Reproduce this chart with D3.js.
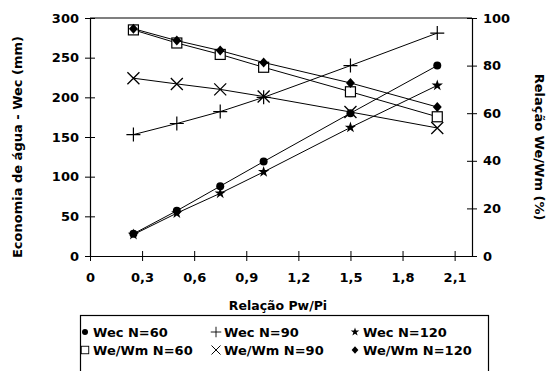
<!DOCTYPE html>
<html>
<head>
<meta charset="utf-8">
<script src="https://cdn.jsdelivr.net/npm/d3@7"></script>
<style>
  body { margin: 0; background: #fff; }
  text { font-family: "DejaVu Sans", "Liberation Sans", Arial, sans-serif; font-weight: bold; fill: #000; }
</style>
</head>
<body>
<svg id="chart" width="556" height="371"></svg>
<script>
// dados
const pwpi = [0.25, 0.5, 0.75, 1.0, 1.5, 2.0];
const wecN60 = [28, 57, 88, 119, 180, 240];
const wecN90 = [153, 167, 182, 200, 240, 281];
const wecN120 = [27, 54, 79, 106, 162, 215];
const weWmN60 = [95, 89.5, 84.7, 79.3, 69, 58.5];
const weWmN90 = [74.7, 72.3, 70, 67, 60.5, 53.8];
const weWmN120 = [95.5, 90.5, 86.3, 81.3, 72.7, 62.6];
const xTicks = [0, 0.3, 0.6, 0.9, 1.2, 1.5, 1.8, 2.1];
const yLeftTicks = [0, 50, 100, 150, 200, 250, 300];
const yRightTicks = [0, 20, 40, 60, 80, 100];

const svg = d3.select("#chart");
const marge = { left: 90, right: 472, top: 18, bottom: 256 };

const x = d3.scaleLinear().domain([0, 2.2]).range([marge.left, marge.right]);
const yL = d3.scaleLinear().domain([0, 300]).range([marge.bottom, marge.top]);
const yR = d3.scaleLinear().domain([0, 100]).range([marge.bottom, marge.top]);

const fmt = d => d === 0 ? "0" : d3.format(".1f")(d).replace(".", ",");

// moldura (topo)
svg.append("line").attr("x1", marge.left).attr("x2", marge.right)
  .attr("y1", marge.top).attr("y2", marge.top).attr("stroke", "#000").attr("stroke-width", 1.2);

// eixo x
const gx = svg.append("g").attr("transform", `translate(0,${marge.bottom})`)
  .call(d3.axisBottom(x).tickValues(xTicks).tickFormat(fmt).tickSize(5).tickSizeOuter(0));
gx.selectAll(".tick line").attr("y1", -5).attr("y2", 5);
gx.selectAll("text").attr("dy", "1.4em");

// eixo y esquerdo
const gyl = svg.append("g").attr("transform", `translate(${marge.left},0)`)
  .call(d3.axisLeft(yL).tickValues(yLeftTicks).tickSize(5).tickSizeOuter(0));
gyl.selectAll(".tick line").attr("x1", -5).attr("x2", 5);
gyl.selectAll("text").attr("x", -11);

// eixo y direito
const gyr = svg.append("g").attr("transform", `translate(${marge.right},0)`)
  .call(d3.axisRight(yR).tickValues(yRightTicks).tickSize(5).tickSizeOuter(0));
gyr.selectAll(".tick line").attr("x1", -5).attr("x2", 5);
gyr.selectAll("text").attr("x", 11);

svg.selectAll(".domain").attr("stroke-width", 1.2);
svg.selectAll("g.tick text").attr("font-size", 13)
  .style("font-family", "'DejaVu Sans', Arial, sans-serif").style("font-weight", "bold");

// títulos
svg.append("text").attr("x", 278).attr("y", 310).attr("text-anchor", "middle")
  .attr("font-size", 12.5).text("Relação Pw/Pi");
svg.append("text").attr("transform", `translate(22,${(marge.top + marge.bottom) / 2 + 10}) rotate(-90)`)
  .attr("text-anchor", "middle").attr("font-size", 13).text("Economia de água - Wec (mm)");
svg.append("text").attr("transform", `translate(535,${(marge.top + marge.bottom) / 2 + 10}) rotate(90)`)
  .attr("text-anchor", "middle").attr("font-size", 13).text("Relação We/Wm (%)");

// símbolos
function marker(g, type) {
  if (type === "circle") g.append("circle").attr("r", 4).attr("fill", "#000");
  else if (type === "plus") g.append("path").attr("d", "M-7,0H7M0,-7V7").attr("stroke", "#000").attr("stroke-width", 1.2);
  else if (type === "star") g.append("path").attr("d", d3.symbol(d3.symbolStar, 40)()).attr("fill", "#000");
  else if (type === "square") g.append("rect").attr("x", -5).attr("y", -5).attr("width", 10).attr("height", 10)
    .attr("fill", "#fff").attr("stroke", "#000").attr("stroke-width", 1.2);
  else if (type === "cross") g.append("path").attr("d", "M-6,-6L6,6M-6,6L6,-6").attr("stroke", "#000").attr("stroke-width", 1.3);
  else if (type === "diamond") g.append("path").attr("d", "M0,-5L4.5,0L0,5L-4.5,0Z").attr("fill", "#000");
}

const series = [
  { name: "Wec N=60", values: wecN60, y: yL, type: "circle" },
  { name: "Wec N=90", values: wecN90, y: yL, type: "plus" },
  { name: "Wec N=120", values: wecN120, y: yL, type: "star" },
  { name: "We/Wm N=60", values: weWmN60, y: yR, type: "square" },
  { name: "We/Wm N=90", values: weWmN90, y: yR, type: "cross" },
  { name: "We/Wm N=120", values: weWmN120, y: yR, type: "diamond" }
];

series.forEach(s => {
  const line = d3.line().x((d, i) => x(pwpi[i])).y(d => s.y(d));
  svg.append("path").datum(s.values).attr("d", line)
    .attr("fill", "none").attr("stroke", "#000").attr("stroke-width", 1);
  s.values.forEach((v, i) => {
    const g = svg.append("g").attr("transform", `translate(${x(pwpi[i])},${s.y(v)})`);
    marker(g, s.type);
  });
});

// legenda
svg.append("rect").attr("x", 80.5).attr("y", 315.5).attr("width", 408).attr("height", 60)
  .attr("fill", "none").attr("stroke", "#000").attr("stroke-width", 1.2);
const colX = [85, 216, 355];
const rowY = [332, 350];
series.forEach((s, i) => {
  const cx = colX[i % 3], cy = rowY[Math.floor(i / 3)];
  const g = svg.append("g").attr("transform", `translate(${cx},${cy}) scale(0.75)`);
  marker(g, s.type);
  svg.append("text").attr("x", cx + 8).attr("y", cy + 5).attr("font-size", 13).text(s.name);
});
</script>
</body>
</html>
